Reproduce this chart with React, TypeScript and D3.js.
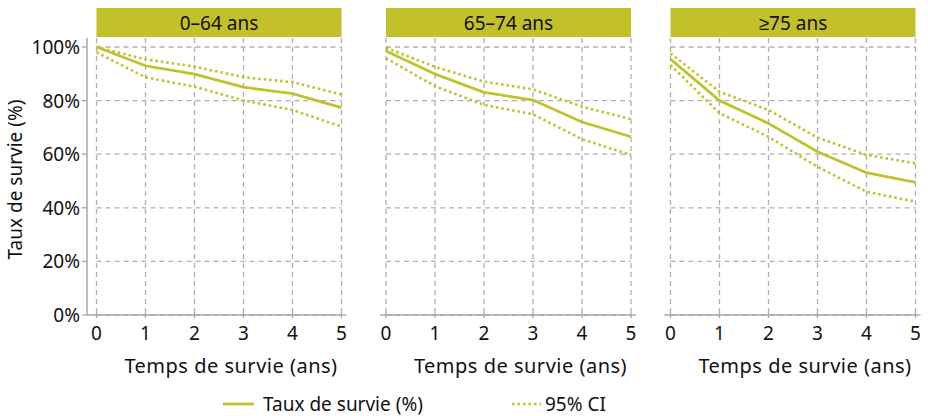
import React from "react";
import * as d3 from "d3";

const panels = ["0–64 ans", "65–74 ans", "≥75 ans"];
const years = [0, 1, 2, 3, 4, 5];
const survival = [
  [100, 93.0, 89.9, 85.0, 82.6, 77.4],
  [98.5, 89.9, 83.1, 80.2, 72.0, 66.5],
  [95.5, 80.0, 71.5, 60.9, 53.1, 49.5],
];
const ciUpper = [
  [100, 95.4, 92.7, 88.7, 86.9, 82.3],
  [99.7, 92.6, 87.1, 84.2, 77.7, 73.1],
  [97.6, 83.3, 76.5, 66.2, 59.7, 56.6],
];
const ciLower = [
  [98.0, 88.7, 85.2, 80.0, 76.5, 70.3],
  [95.8, 85.4, 78.4, 74.9, 65.6, 59.7],
  [93.3, 75.3, 66.5, 55.3, 46.0, 42.3],
];
const yTicks = [0, 20, 40, 60, 80, 100];
const yTitle = "Taux de survie (%)";
const xTitle = "Temps de survie (ans)";
const legendLabels = ["Taux de survie (%)", "95% CI"];

const OLIVE = "#c3c12a";
const GRID = "#b0b0b0";
const AXIS = "#a8a8a8";
const FONT = "'Noto Sans', sans-serif";
const FS = 19;

const panelLeft = [96.5, 386, 670.5];
const panelWidth = 245;
const plotTop = 38;
const plotBottom = 315;

export default function App() {
  const y = d3.scaleLinear().domain([0, 100]).range([plotBottom, 47]);
  return (
    <svg
      width={928}
      height={416}
      style={{ position: "absolute", left: 0, top: 0, background: "#fff" }}
      fontFamily={FONT}
    >
      {panels.map((name, i) => {
        const x = d3.scaleLinear().domain([0, 5]).range([panelLeft[i], panelLeft[i] + panelWidth]);
        const line = d3
          .line<number>()
          .x((_, j) => x(years[j]))
          .y((d) => y(d));
        const x0 = x(0);
        const x5 = x(5);
        return (
          <g key={name}>
            <rect x={x0} y={8} width={x5 - x0} height={29} fill={OLIVE} />
            <text x={(x0 + x5) / 2} y={23} textAnchor="middle" dominantBaseline="central" fontSize={FS} fill="#111">
              {name}
            </text>
            {yTicks.map((t) => (
              <line key={"h" + t} x1={x0} x2={x5} y1={y(t)} y2={y(t)} stroke={GRID} strokeWidth={1.3} strokeDasharray="5,4" />
            ))}
            {years.map((t) => (
              <line key={"v" + t} x1={x(t)} x2={x(t)} y1={plotTop} y2={plotBottom} stroke={GRID} strokeWidth={1.3} strokeDasharray="5,4" />
            ))}
            <line x1={i === 0 ? 87 : x0 - 6} x2={x5 + 5} y1={plotBottom} y2={plotBottom} stroke={AXIS} strokeWidth={1.5} />
            {years.map((t) => (
              <g key={"xt" + t}>
                <line x1={x(t)} x2={x(t)} y1={plotBottom - 2} y2={plotBottom + 3} stroke={AXIS} strokeWidth={1.3} />
                <text x={x(t)} y={333} textAnchor="middle" dominantBaseline="central" fontSize={FS} fill="#111">
                  {t}
                </text>
              </g>
            ))}
            <text
              x={(x0 + x5) / 2 + 12}
              y={365}
              textAnchor="middle"
              dominantBaseline="central"
              fontSize={20}
              letterSpacing={0.5}
              fill="#111"
            >
              {xTitle}
            </text>
            <path d={line(ciUpper[i]) || ""} fill="none" stroke={OLIVE} strokeWidth={2.6} strokeDasharray="2.5,3" />
            <path d={line(ciLower[i]) || ""} fill="none" stroke={OLIVE} strokeWidth={2.6} strokeDasharray="2.5,3" />
            <path d={line(survival[i]) || ""} fill="none" stroke={OLIVE} strokeWidth={2.8} />
          </g>
        );
      })}
      <line x1={87} x2={87} y1={plotTop} y2={plotBottom} stroke={AXIS} strokeWidth={1.5} />
      {yTicks.map((t) => (
        <g key={"yt" + t}>
          <line x1={82} x2={87} y1={y(t)} y2={y(t)} stroke={AXIS} strokeWidth={1.3} />
          <text x={80} y={y(t)} textAnchor="end" dominantBaseline="central" fontSize={FS} fill="#111">
            {t + "%"}
          </text>
        </g>
      ))}
      <text
        transform={`translate(15, ${(plotTop + plotBottom) / 2 + 3}) rotate(-90)`}
        textAnchor="middle"
        dominantBaseline="central"
        fontSize={FS}
        fill="#111"
      >
        {yTitle}
      </text>
      <line x1={223} x2={254} y1={404} y2={404} stroke={OLIVE} strokeWidth={2.8} />
      <text x={263} y={404} dominantBaseline="central" fontSize={FS} fill="#111">
        {legendLabels[0]}
      </text>
      <line x1={512} x2={541} y1={404} y2={404} stroke={OLIVE} strokeWidth={2.6} strokeDasharray="2.5,3" />
      <text x={545} y={404} dominantBaseline="central" fontSize={FS} fill="#111">
        {legendLabels[1]}
      </text>
    </svg>
  );
}
